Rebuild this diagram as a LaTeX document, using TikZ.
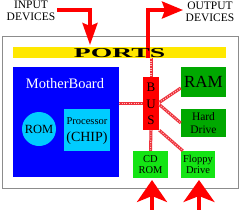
\documentclass[tikz,border=0pt]{standalone}
\usepackage{fontspec}
\setmainfont{Liberation Serif}
\usetikzlibrary{arrows.meta,calc}
\definecolor{mbblue}{RGB}{0,0,255}
\definecolor{cyanc}{RGB}{0,204,255}
\definecolor{dgreen}{RGB}{0,168,0}
\definecolor{lgreen}{RGB}{20,228,20}
\definecolor{portsy}{RGB}{255,232,0}
\definecolor{redc}{RGB}{255,0,0}
\definecolor{framegray}{RGB}{140,140,140}
\definecolor{buslinec}{RGB}{238,50,60}
\tikzset{
  box/.style={rectangle, inner sep=0pt, align=center},
  busln/.style={draw=buslinec, line width=3pt,
    postaction={draw=white!75!red, line width=1.1pt, dash pattern=on 0.8pt off 1.6pt}},
  bigarrow/.style={draw=redc, line width=3.5pt},
  lbl/.style={inner sep=0pt, align=center}
}
\begin{document}
\begin{tikzpicture}[x=1pt,y=-1pt]
\useasboundingbox (0,0) rectangle (241,209);
\fill[white] (0,0) rectangle (241,209);

% outer frame
\node[box, draw=framegray, line width=1pt, fill=white, minimum width=236pt, minimum height=152pt] (frame) at (120,112) {};

% labels at top
\node[lbl, font=\fontsize{11.5}{12}\selectfont] (inlbl) at (31,11) {INPUT\\DEVICES};
\node[lbl, font=\fontsize{11.5}{12}\selectfont] (outlbl) at (210,12) {OUTPUT\\DEVICES};

% ports bar
\node[box, fill=portsy, minimum width=213pt, minimum height=11pt] (ports) at (119.5,52.5) {};

% motherboard
\node[box, fill=mbblue, minimum width=106pt, minimum height=110pt] (mb) at (66,122) {};
\node[lbl, text=white, font=\fontsize{14.5}{15}\selectfont] (mbt) at (65,84) {MotherBoard};
\node[circle, fill=cyanc, minimum size=34pt, inner sep=0pt, font=\fontsize{12.5}{13}\selectfont] (rom) at (39,129) {ROM};
\node[box, fill=cyanc, minimum width=46pt, minimum height=42pt] (proc) at (87,130) {};
\node[lbl, font=\fontsize{10.5}{11}\selectfont] (proct) at (87,121) {Processor};
\node[lbl, font=\fontsize{14}{14}\selectfont] (chipt) at (87,138) {(CHIP)};

% bus
\node[box, fill=redc, minimum width=16pt, minimum height=53pt] (bus) at (151,103.5) {};
\node[lbl, font=\fontsize{13}{13}\selectfont] (bB) at (151,87) {B};
\node[lbl, font=\fontsize{13}{13}\selectfont] (bU) at (151,104) {U};
\node[lbl, font=\fontsize{13}{13}\selectfont] (bS) at (151,120) {S};

% devices
\node[box, fill=dgreen, minimum width=45pt, minimum height=30pt, font=\fontsize{17}{17}\selectfont] (ram) at (203.5,82) {RAM};
\node[box, fill=dgreen, minimum width=45pt, minimum height=28pt, font=\fontsize{11.5}{12.5}\selectfont] (hd) at (203.5,123) {Hard\\Drive};
\node[box, fill=lgreen, minimum width=35pt, minimum height=27pt, font=\fontsize{10.5}{11.5}\selectfont] (cd) at (150.5,164.5) {CD\\ROM};
\node[box, fill=lgreen, minimum width=34pt, minimum height=27pt, font=\fontsize{10.5}{11.5}\selectfont] (fd) at (198,164.5) {Floppy\\Drive};

% bus connectors
\draw[busln] (bus.north |- ports.south) -- (bus.north);
\draw[busln] (mb.east |- bus.west) -- (bus.west);
\draw[busln] ($(bus.east)+(0,-1)$) -- ($(ram.west)+(0,6)$);
\draw[busln] ($(bus.east)+(0,1)$) -- (hd.west);
\draw[busln] (bus.south) -- (cd.north);
\draw[busln] (bus.south east) -- ($(fd.north west)+(2,0)$);

% input / output arrows
\coordinate (inS) at (57,10);
\coordinate (inT) at (90,45);
\draw[bigarrow, -{Stealth[length=22pt, width=15pt, inset=3pt]}] (inS) -| (inT);
\coordinate (outB) at (148,58);
\coordinate (outT) at (183,10);
\draw[bigarrow, -{Stealth[length=21pt, width=17pt, inset=3pt]}] (outB) |- (outT);

% PORTS label
\node[lbl, font=\bfseries\fontsize{13.5}{14}\selectfont] (portst) at (119.5,53) {\scalebox{2.05}[1]{PORTS}};

% bottom arrows
\coordinate (a1s) at (152,212);
\coordinate (a1t) at (152,180);
\coordinate (a2s) at (199,212);
\coordinate (a2t) at (199,180);
\draw[bigarrow, -{Stealth[length=22pt, width=30pt, inset=6pt]}] (a1s) -- (a1t);
\draw[bigarrow, -{Stealth[length=22pt, width=31pt, inset=6pt]}] (a2s) -- (a2t);
\end{tikzpicture}
\end{document}
